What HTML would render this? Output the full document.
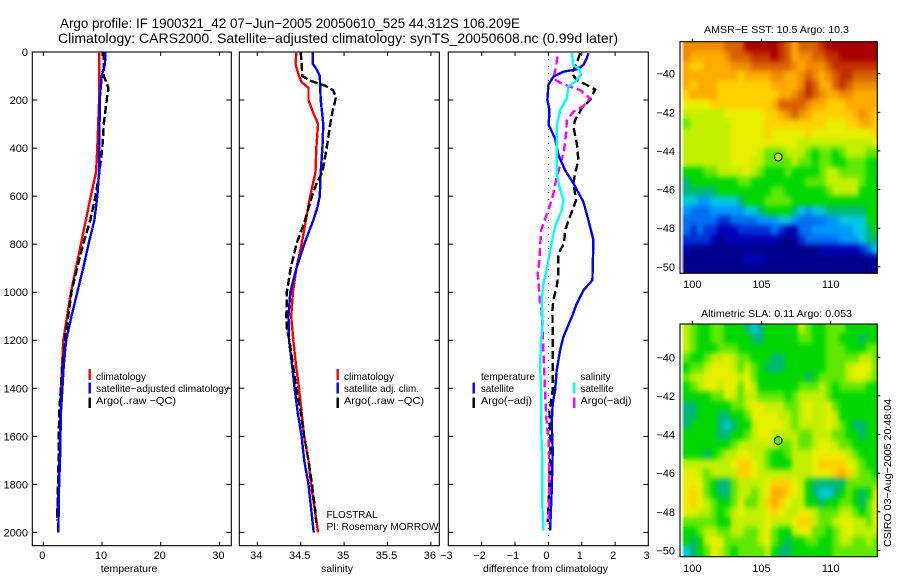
<!DOCTYPE html>
<html>
<head>
<meta charset="utf-8">
<title>Argo profile</title>
<style>
html,body{margin:0;padding:0;background:#fff;width:900px;height:580px;overflow:hidden}
svg{display:block}
text{font-family:"Liberation Sans",sans-serif;fill:#000}
.t{font-size:14px}.k{font-size:11px}.l{font-size:10.5px}
</style>
</head>
<body>
<svg id="figure" width="900" height="580" viewBox="0 0 900 580" xmlns="http://www.w3.org/2000/svg">
<defs>
<filter id="soften" x="-5%" y="-5%" width="110%" height="110%" color-interpolation-filters="sRGB">
<feGaussianBlur in="SourceGraphic" stdDeviation="2 2.8" result="b"/>
<feMerge><feMergeNode in="SourceGraphic"/><feMergeNode in="b"/></feMerge>
</filter>
<clipPath id="clip-sst"><rect x="681" y="42" width="196.3" height="231.3"/></clipPath>
<clipPath id="clip-sla"><rect x="681" y="324" width="196.3" height="232.7"/></clipPath>
</defs>
<rect width="900" height="580" fill="#fff"/>
<g id="marks"></g>
<text class="t" x="60" y="28" textLength="460" lengthAdjust="spacingAndGlyphs">Argo profile: IF 1900321_42 07−Jun−2005 20050610_525 44.312S 106.209E</text>
<text class="t" x="58" y="43" textLength="560" lengthAdjust="spacingAndGlyphs">Climatology: CARS2000. Satellite−adjusted climatology: synTS_20050608.nc (0.99d later)</text>

<text class="l" x="129" y="572" text-anchor="middle">temperature</text>
<text class="l" x="337" y="572" text-anchor="middle">salinity</text>
<text class="l" x="545.5" y="572" text-anchor="middle" textLength="125" lengthAdjust="spacingAndGlyphs">difference from climatology</text>

<g>
<rect x="88.5" y="369" width="2.4" height="11" fill="#f00"/>
<rect x="88.5" y="382.5" width="2.4" height="11" fill="#00f"/>
<rect x="88.5" y="397.5" width="2.4" height="10.5" fill="#000"/>
<text class="l" x="96" y="380" textLength="50" lengthAdjust="spacingAndGlyphs">climatology</text>
<text class="l" x="96" y="392" textLength="133" lengthAdjust="spacingAndGlyphs">satellite−adjusted climatology</text>
<text class="l" x="96" y="404" textLength="80" lengthAdjust="spacingAndGlyphs">Argo(..raw −QC)</text>
</g>
<g>
<rect x="336.5" y="369" width="2.4" height="11" fill="#f00"/>
<rect x="336.5" y="382.5" width="2.4" height="11" fill="#00f"/>
<rect x="336.5" y="397.5" width="2.4" height="10.5" fill="#000"/>
<text class="l" x="344" y="380" textLength="50" lengthAdjust="spacingAndGlyphs">climatology</text>
<text class="l" x="344" y="392" textLength="75" lengthAdjust="spacingAndGlyphs">satellite adj. clim.</text>
<text class="l" x="344" y="404" textLength="80" lengthAdjust="spacingAndGlyphs">Argo(..raw −QC)</text>
</g>
<g>
<text class="l" x="481" y="380" textLength="54" lengthAdjust="spacingAndGlyphs">temperature</text>
<rect x="472.5" y="382.5" width="2.4" height="11" fill="#00f"/>
<rect x="472.5" y="397.5" width="2.4" height="10.5" fill="#000"/>
<text class="l" x="481" y="392" textLength="33" lengthAdjust="spacingAndGlyphs">satellite</text>
<text class="l" x="481" y="404" textLength="51" lengthAdjust="spacingAndGlyphs">Argo(−adj)</text>
<text class="l" x="580.5" y="380" textLength="30" lengthAdjust="spacingAndGlyphs">salinity</text>
<rect x="573" y="382.5" width="2.4" height="11" fill="#0ff"/>
<rect x="573" y="397.5" width="2.4" height="10.5" fill="#f0f"/>
<text class="l" x="580.5" y="392" textLength="33" lengthAdjust="spacingAndGlyphs">satellite</text>
<text class="l" x="580.5" y="404" textLength="51" lengthAdjust="spacingAndGlyphs">Argo(−adj)</text>
</g>
<text class="l" x="326.5" y="518" textLength="51" lengthAdjust="spacingAndGlyphs">FLOSTRAL</text>
<text class="l" x="326.5" y="530" textLength="112" lengthAdjust="spacingAndGlyphs">PI: Rosemary MORROW</text>

<text class="l" x="776.5" y="33" text-anchor="middle" textLength="145" lengthAdjust="spacingAndGlyphs">AMSR−E SST: 10.5 Argo: 10.3</text>
<text class="l" x="776.5" y="317" text-anchor="middle" textLength="151" lengthAdjust="spacingAndGlyphs">Altimetric SLA: 0.11 Argo: 0.053</text>
<text class="l" transform="translate(891,547) rotate(-90)" textLength="148" lengthAdjust="spacingAndGlyphs">CSIRO 03−Aug−2005 20:48:04</text>
</svg>
<script>
/* ---------- profile data (depth in dbar) ---------- */
const climTDepth = [0,200,400,500,600,800,1000,1200,1400,1600,1800,1940];
const climT = [9.5,9.5,9.2,9.0,8.1,6.4,4.7,3.4,3.0,2.85,2.6,2.4];
const satTDepth = [0,50,100,200,400,500,600,700,800,900,1000,1100,1200,1300,1400,1500,1700,1800,2000];
const satT = [10.6,10.5,9.95,9.6,9.55,9.5,9.2,8.7,7.7,6.8,5.8,4.8,3.9,3.5,3.25,3.0,2.85,2.7,2.55];
const argoTDepth = [0,100,130,150,200,300,400,500,600,700,800,900,1000,1100,1200,1300,1500,1700,1900,1950];
const argoT = [10.3,10.3,10.8,11.1,10.8,10.3,10.05,9.55,8.9,8,6.8,5.75,4.8,4.25,3.7,3.3,2.7,2.6,2.4,2.35];

const climSDepth = [0,50,100,125,150,200,250,300,400,500,600,700,800,900,1000,1100,1200,1300,1400,1500,1600,1700,1800,1900,2000];
const climS = [34.45,34.44,34.48,34.51,34.59,34.59,34.64,34.70,34.68,34.67,34.61,34.56,34.51,34.45,34.41,34.39,34.415,34.445,34.48,34.51,34.54,34.59,34.62,34.66,34.70];
const satSDepth = [0,50,70,100,200,300,400,500,600,650,700,800,900,1000,1100,1200,1300,1400,1500,1600,1700,1800,1900,2000];
const satS = [34.64,34.64,34.68,34.72,34.73,34.76,34.75,34.73,34.72,34.69,34.645,34.54,34.45,34.38,34.36,34.365,34.40,34.43,34.465,34.51,34.54,34.59,34.62,34.65];
const argoSDepth = [0,50,100,120,140,160,190,250,300,400,500,550,600,700,800,900,1000,1100,1150,1200,1300,1400,1500,1600,1700,1800,1900,1960];
const argoS = [34.50,34.51,34.52,34.61,34.78,34.875,34.905,34.865,34.84,34.80,34.75,34.68,34.63,34.55,34.45,34.385,34.34,34.335,34.34,34.37,34.41,34.45,34.50,34.54,34.59,34.63,34.665,34.68];

const diffSatTDepth = [5,26,54,72,82,103,137,200,242,304,360,429,492,547,624,700,783,881,950,992,1047,1103,1186,1242,1325,1408,1464,1547,1658,1825,1992];
const diffSatT = [1.2,1.15,1.05,.85,.45,.15,0,-.03,.03,.01,.2,.3,.5,.75,1.05,1.2,1.35,1.33,1.32,1.05,.85,.7,.45,.35,.25,.2,.13,.1,.13,.1,.05];
const diffSatSDepth = [5,54,75,96,124,144,193,242,311,381,506,561,617,658,728,825,908,964,1033,1131,1200,1297,1408,1547,1686,1867,1992];
const diffSatS = [.7,.75,.95,.97,.8,.6,.55,.35,.25,.25,.25,.33,.45,.4,.2,.05,-.05,-.15,-.2,-.17,-.22,-.25,-.22,-.22,-.19,-.19,-.15];
const diffArgoTDepth = [5,47,89,117,137,156,200,235,283,311,381,450,506,547,617,665,742,797,839,922,978,1033,1075,1200,1339,1408,1492,1589,1686,1881,1957];
const diffArgoT = [.95,.85,.7,.85,1.15,1.4,1.25,1.0,.8,.75,.85,.9,.8,.75,.83,.7,.5,.47,.3,.3,.25,.15,.12,.13,.13,.13,.03,.05,.05,.01,-.02];
const diffArgoSDepth = [19,61,110,128,142,158,193,225,249,286,339,408,464,519,589,637,707,742,867,922,992,1047,1075,1172,1311,1450,1547,1617,1770,1964];
const diffArgoS = [.27,.23,.15,.35,.6,.95,1.25,1.05,.75,.55,.53,.47,.37,.25,.15,.05,-.13,-.22,-.27,-.32,-.28,-.25,-.2,-.17,-.13,-.09,-.05,.01,.03,.01];

/* ---------- tick labels ---------- */
const depthTicks = [0,200,400,600,800,1000,1200,1400,1600,1800,2000];
const tempTicks = [0,10,20,30];
const salTicks = [34,34.5,35,35.5,36];
const diffTicks = [-3,-2,-1,0,1,2,3];
const lonTicks = [100,105,110];
const latTicks = [-40,-42,-44,-46,-48,-50];
const floatLon = 106.209;
const floatLat = -44.312;
const sstFloatLevel = 8.5;
const slaFloatLevel = 7.6;

/* ---------- map grids: colour levels, north to south ---------- */
const sstGrid = [
[13,13,13,13,13,13,14,14,14,16,16,16,16,16,15,14,12,14,14,14,15,16,16,16,16,16,16,16,16],
[13,12,12,12,12,12,13,14,14,14,15,15,15,16,15,14,12,13,13,14,14,15,15,16,16,16,16,16,16],
[12,11,11,12,12,12,12,13,13,13,14,14,14,14,14,14,13,12,13,13,13,14,15,15,15,15,15,15,15],
[12,12,12,12,12,12,12,12,11,12,12,12,12,13,13,12,12,13,14,13,12,13,14,15,15,14,14,14,14],
[12,11,12,12,12,11,11,11,11,11,11,11,11,12,12,12,12,13,15,14,12,12,14,15,14,13,13,13,13],
[11,12,12,12,12,11,11,11,11,11,11,11,11,11,12,12,13,14,15,14,13,12,12,13,13,12,12,12,12],
[10,10,10,10,11,11,11,11,11,11,11,11,11,12,14,14,14,14,13,12,12,11,11,11,12,12,12,12,12],
[9,9,9,9,9,9,10,10,10,10,10,10,11,11,12,13,14,13,12,11,11,11,11,11,11,12,13,12,11],
[8,9,9,9,9,9,9,10,10,10,10,10,11,11,11,11,11,11,11,11,11,10,10,10,11,11,12,12,11],
[9,9,9,9,9,9,9,10,10,10,10,10,11,10,10,10,10,10,11,10,10,10,10,10,10,10,10,10,11],
[9,9,9,9,9,9,9,10,10,10,10,10,10,10,10,10,10,9,9,9,9,9,9,9,9,9,9,9,10],
[9,9,9,9,9,9,9,10,10,10,10,9,8,8,8,9,9,9,8,7,8,8,7,8,9,9,9,8,8],
[9,9,9,9,9,9,9,10,10,10,9,9,8,8,8,8,9,8,8,7,8,8,7,7,8,8,8,7,7],
[7,7,7,8,8,9,9,9,9,10,9,8,7,7,7,8,7,7,7,7,8,9,9,8,8,8,8,7,7],
[6,7,7,7,7,7,7,7,8,8,7,7,7,7,7,7,7,7,8,8,8,9,9,9,9,9,8,7,7],
[6,6,6,6,6,7,7,7,7,7,7,7,7,8,8,7,7,7,7,7,7,8,9,9,9,9,7,7,7],
[5,5,4,4,5,5,5,5,6,7,7,7,8,8,8,8,7,7,7,7,7,7,7,7,7,7,7,7,7],
[4,3,3,3,4,4,4,4,4,5,5,6,7,7,7,7,6,5,4,5,5,6,6,6,6,6,6,7,7],
[3,3,3,3,3,2,2,3,3,3,3,4,4,4,5,5,4,3,3,3,3,4,4,5,5,5,5,7,7],
[3,2,3,2,2,1,1,1,2,2,2,2,2,3,2,1,1,3,3,4,4,4,4,4,4,5,5,6,7],
[2,2,2,2,1,0,1,1,1,1,1,1,1,1,0,0,0,2,3,3,3,3,3,4,4,4,5,6,6],
[1,0,0,0,0,0,0,0,0,0,0,0,0,0,0,0,0,0,0,0,1,1,1,1,1,1,2,3,5],
[0,0,0,0,0,0,0,0,0,1,1,1,0,0,0,0,0,0,0,0,0,0,0,0,0,0,0,0,1],
[0,0,0,0,0,0,0,0,0,0,0,0,0,0,0,0,0,0,0,0,0,0,0,0,0,0,0,0,0]
];
const slaGrid = [
[9,8,7,7,8,8,7,7,7,6,5,6,7,7,7,7,7,9,8,7,7,8,8,8,7,7,7,7,7],
[9,8,7,7,8,8,7,7,7,7,6,6,7,7,7,7,7,8,8,7,7,8,8,7,7,7,6,7,7],
[9,8,7,7,7,8,8,8,7,7,7,7,7,7,7,7,7,7,7,7,7,8,8,8,7,7,7,8,8],
[8,7,7,8,9,9,10,9,8,8,7,7,7,6,6,7,7,7,7,7,7,8,8,8,8,8,9,9,8],
[7,8,8,9,10,10,10,9,8,9,8,7,6,6,6,7,7,7,7,7,7,8,8,8,9,10,10,10,8],
[8,9,9,10,10,10,10,10,9,10,8,7,7,7,7,7,7,7,6,7,8,8,8,8,9,10,10,9,8],
[7,8,9,10,10,9,10,10,8,10,9,7,7,7,7,7,7,8,8,8,9,8,7,8,8,8,8,7,7],
[7,7,7,7,8,8,10,9,8,9,9,8,8,8,8,7,8,9,9,9,9,8,7,7,7,7,7,7,7],
[6,6,7,7,7,7,7,8,8,9,10,10,9,9,9,8,8,9,10,9,9,10,8,7,7,7,7,7,7],
[6,6,7,7,7,6,6,7,7,8,10,10,10,10,9,9,8,9,10,9,9,10,9,7,7,7,7,7,7],
[6,7,7,7,7,6,5,6,7,7,9,10,10,10,10,9,8,9,9,9,9,10,9,8,7,6,6,7,7],
[7,7,7,7,7,6,6,7,7,8,9,10,10,9,9,9,9,8,8,9,9,9,8,8,7,7,6,7,7],
[7,7,7,7,7,7,7,8,9,9,9,9,9,9,8,8,9,8,8,9,10,10,9,8,8,7,7,7,7],
[7,7,7,6,7,8,9,9,10,10,9,9,8,7,7,8,9,9,9,10,10,10,10,10,9,8,7,7,7],
[9,9,9,9,9,9,9,10,11,11,10,9,8,7,7,7,9,9,9,10,11,11,11,11,10,9,8,7,7],
[10,10,9,8,9,9,9,9,11,11,10,9,9,9,9,9,9,9,9,10,10,10,11,12,11,9,8,8,7],
[10,10,10,8,7,6,6,8,9,9,9,9,10,11,11,11,10,9,7,6,6,6,6,6,8,8,8,8,8],
[10,11,10,8,7,6,6,8,9,9,8,9,10,12,12,11,10,9,7,6,5,5,6,7,8,7,6,7,10],
[10,11,10,9,8,7,7,8,10,8,8,9,11,12,11,10,9,9,7,7,6,7,7,8,8,7,6,8,10],
[10,10,9,9,8,7,8,9,10,9,9,9,10,11,10,9,9,10,10,9,8,8,8,9,9,8,7,8,10],
[8,8,8,8,8,7,7,9,9,9,9,9,10,9,9,9,10,11,11,9,8,8,9,10,10,9,9,8,10],
[7,7,8,9,9,8,8,9,9,8,8,9,10,8,7,7,9,10,10,8,8,7,8,9,10,9,9,9,9],
[7,6,7,9,10,10,8,8,8,8,8,9,10,8,7,6,7,7,8,8,7,7,8,9,9,8,8,9,8],
[5,6,7,8,10,9,8,7,8,8,8,8,9,7,6,6,7,7,7,7,7,7,8,8,8,8,8,8,8]
];
const levelColors = ['#00008c','#0000b8','#0030d8','#0070f0','#0098ff','#00c8e0','#00b878','#00d800','#60e800','#c0f000','#e8f000','#ffd000','#ffac00','#f08c00','#d86000','#c03000','#a80000'];

/* ---------- drawing ---------- */
const NS = 'http://www.w3.org/2000/svg';
const root = document.getElementById('marks');
function make(tag, attrs, parent) {
  const el = document.createElementNS(NS, tag);
  for (const k in attrs) el.setAttribute(k, attrs[k]);
  (parent || root).appendChild(el);
  return el;
}
const depthY = d => 52 + d * 0.2402;
const tempX = v => 43.3 + v * 5.87;
const salX = v => 257.3 + (v - 34) * 86.8;
const diffX = v => 548.4 + v * 33.37;

function series(xs, ds, scale, color, dash, name) {
  const pts = xs.map((v, i) => scale(v).toFixed(1) + ',' + depthY(ds[i]).toFixed(1)).join(' ');
  const el = make('polyline', {points: pts, fill: 'none', stroke: color, 'stroke-width': 2.4, 'stroke-dasharray': dash || 'none', 'shape-rendering': 'crispEdges'});
  
  
}
function panel(left, right, scale, ticks, fmt, name, labelShift) {
  const top = 52, bottom = 545.7;
  const g = make('g', {});
  
  
  const box = make('rect', {x: left, y: top, width: right - left, height: bottom - top, fill: 'none', stroke: '#000', 'stroke-width': 1.1}, g);
  
  
  depthTicks.forEach(d => {
    const y = depthY(d);
    const t = make('path', {d: `M${left} ${y}h5M${right} ${y}h-5`, stroke: '#000', fill: 'none', 'stroke-width': 1}, g);
    
    
  });
  ticks.forEach(v => {
    const x = scale(v);
    if (x > left + 1 && x < right - 1) {
      const t = make('path', {d: `M${x} ${top}v4M${x} ${bottom}v-4`, stroke: '#000', fill: 'none', 'stroke-width': 1}, g);
      
      
    }
    const lab = make('text', {x: x - labelShift, y: 559, 'text-anchor': 'middle', 'class': 'k'}, g);
    lab.textContent = fmt(v);
    
    
  });
}
const minus = v => String(v).replace('-', '−');
panel(32.3, 231.3, tempX, tempTicks, minus, 'temperature', 1);
panel(239.3, 439.3, salX, salTicks, minus, 'salinity', 1);
panel(448.3, 648.3, diffX, diffTicks, minus, 'difference', 2);

depthTicks.forEach(d => {
  const lab = make('text', {x: 28, y: depthY(d) + 4, 'text-anchor': 'end', 'class': 'k'});
  lab.textContent = d;
  
  
});

const zero = make('line', {x1: diffX(0), x2: diffX(0), y1: 52, y2: 545.7, stroke: '#000', 'stroke-width': 1, 'stroke-dasharray': '1 6'});



series(climT, climTDepth, tempX, '#f00', null, 'temperature-climatology-line');
series(argoT, argoTDepth, tempX, '#000', '8 3', 'temperature-argo-line');
series(satT, satTDepth, tempX, '#00f', null, 'temperature-satellite-line');
series(climS, climSDepth, salX, '#f00', null, 'salinity-climatology-line');
series(satS, satSDepth, salX, '#00f', null, 'salinity-satellite-line');
series(argoS, argoSDepth, salX, '#000', '8 3', 'salinity-argo-line');
series(diffArgoT, diffArgoTDepth, diffX, '#000', '8 4', 'difference-argo-temperature-line');
series(diffArgoS, diffArgoSDepth, diffX, '#f0f', '8 4', 'difference-argo-salinity-line');
series(diffSatT, diffSatTDepth, diffX, '#00f', null, 'difference-satellite-temperature-line');
series(diffSatS, diffSatSDepth, diffX, '#0ff', null, 'difference-satellite-salinity-line');

function map(grid, lat40Y, frameTop, frameBottom, floatLevel, name, labelY) {
  const lonX = lon => 692.3 + (lon - 100) * 13.84;
  const latY = lat => lat40Y + (-40 - lat) * 19.31;
  const lonFirst = 99.35, lonStep = 0.4885, latStep = 0.5;
  const latFirst = -40 + (lat40Y - frameTop) / 19.31;
  const g = make('g', {});
  
  
  const clip = make('g', {'clip-path': 'url(#clip-' + name + ')'}, g);
  
  
  const cells = make('g', {filter: 'url(#soften)'}, clip);
  
  
  grid.forEach((row, r) => row.forEach((lev, c) => {
    const x0 = lonX(lonFirst + c * lonStep), x1 = lonX(lonFirst + (c + 1) * lonStep);
    const y0 = latY(latFirst - r * latStep), y1 = latY(latFirst - (r + 1) * latStep);
    const cell = make('rect', {x: x0.toFixed(2), y: y0.toFixed(2), width: (x1 - x0 + 0.4).toFixed(2), height: (y1 - y0 + 0.4).toFixed(2), fill: levelColors[lev], 'shape-rendering': 'crispEdges'}, cells);
    
    
  }));
  const box = make('rect', {x: 680, y: frameTop, width: 197.3, height: frameBottom - frameTop, fill: 'none', stroke: '#000', 'stroke-width': 1.1}, g);
  
  
  lonTicks.forEach(v => {
    const t = make('line', {x1: lonX(v), x2: lonX(v), y1: frameTop, y2: frameTop - 3, stroke: '#000'}, g);
    
    
    const lab = make('text', {x: lonX(v), y: labelY, 'text-anchor': 'middle', 'class': 'k'}, g);
    lab.textContent = v;
    
    
  });
  latTicks.forEach(v => {
    const t = make('line', {x1: 877.3, x2: 880.3, y1: latY(v), y2: latY(v), stroke: '#000'}, g);
    
    
    const lab = make('text', {x: 675, y: latY(v) + 4, 'text-anchor': 'end', 'class': 'k'}, g);
    lab.textContent = minus(v);
    
    
  });
  const dot = make('circle', {cx: lonX(floatLon), cy: latY(floatLat), r: 3.9, fill: levelColors[Math.round(floatLevel)], stroke: '#000', 'stroke-width': 1}, g);
  
  
}
map(sstGrid, 73.7, 41.7, 273.3, sstFloatLevel, 'sst', 288);
map(slaGrid, 357.3, 324, 556.7, slaFloatLevel, 'sla', 572);
</script>
</body>
</html>
